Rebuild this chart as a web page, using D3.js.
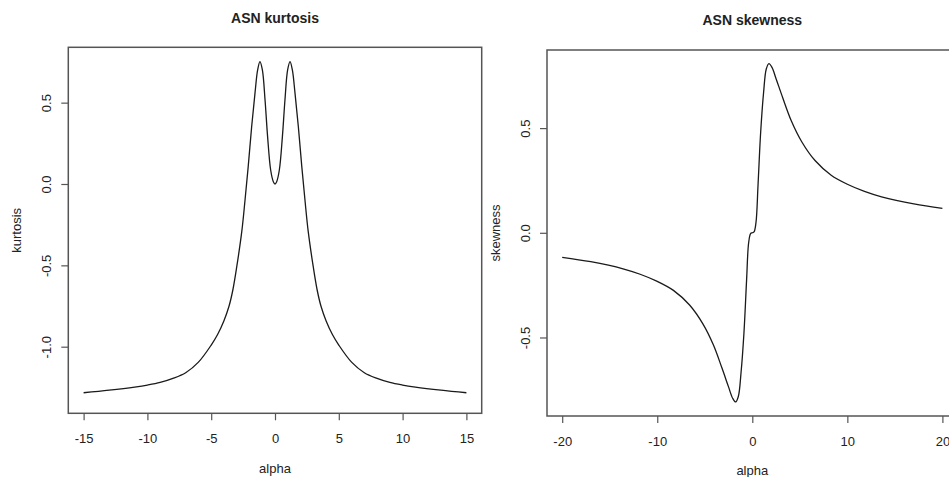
<!DOCTYPE html>
<html><head><meta charset="utf-8">
<script src="https://cdn.jsdelivr.net/npm/d3@7"></script>
<style>
body{margin:0;background:#fff}
svg{display:block}
text{font-family:"Liberation Sans",Arial,sans-serif;fill:#222}
</style>
</head><body>
<svg id="c" width="949" height="477"></svg>
<script>
// ---- data ----
const kurtAlpha = [-15, -13, -11, -10, -9, -8, -7, -6, -5, -4.5, -4, -3.6, -3.3, -3.0, -2.6, -2.35, -2.1, -1.83, -1.57, -1.36, -1.18, -0.99, -0.78, -0.58, -0.34, -0.13, 0,
                   0.13, 0.34, 0.58, 0.78, 0.99, 1.18, 1.36, 1.57, 1.83, 2.1, 2.35, 2.6, 3.0, 3.3, 3.6, 4, 4.5, 5, 6, 7, 8, 9, 10, 11, 13, 15];
const kurtValue = [-1.283, -1.267, -1.248, -1.236, -1.220, -1.195, -1.160, -1.095, -0.990, -0.925, -0.840, -0.750, -0.650, -0.510, -0.290, -0.100, 0.107, 0.352, 0.557, 0.701, 0.752, 0.701, 0.516, 0.291, 0.086, 0.014, 0.0,
                   0.014, 0.086, 0.291, 0.516, 0.701, 0.752, 0.701, 0.557, 0.352, 0.107, -0.100, -0.290, -0.510, -0.650, -0.750, -0.840, -0.925, -0.990, -1.095, -1.160, -1.195, -1.220, -1.236, -1.248, -1.267, -1.283];

const skewAlpha = [-20, -17, -13.6, -11.8, -10, -8.3, -6.6, -5.2, -4.1, -3.2, -2.5, -2.07, -1.75, -1.47, -1.19, -0.88, -0.6, -0.39, -0.18, 0,
                   0.18, 0.39, 0.6, 0.88, 1.19, 1.47, 1.75, 2.07, 2.5, 3.2, 4.1, 5.2, 6.6, 8.3, 10, 11.8, 13.6, 17, 20];
const skewValue = [-0.117, -0.138, -0.172, -0.198, -0.232, -0.275, -0.345, -0.435, -0.535, -0.645, -0.736, -0.790, -0.808, -0.782, -0.671, -0.480, -0.225, -0.050, -0.004, 0.0,
                   0.004, 0.050, 0.225, 0.480, 0.671, 0.782, 0.808, 0.790, 0.736, 0.645, 0.535, 0.435, 0.345, 0.275, 0.232, 0.198, 0.172, 0.138, 0.117];

const kurtXTicks = [-15, -10, -5, 0, 5, 10, 15];
const kurtYTicks = [-1.0, -0.5, 0.0, 0.5];
const skewXTicks = [-20, -10, 0, 10, 20];
const skewYTicks = [-0.5, 0.0, 0.5];

const svg = d3.select("#c");

function panel(o) {
  const x = d3.scaleLinear().domain(o.xDomain).range([o.left, o.right]);
  const y = d3.scaleLinear().domain(o.yDomain).range([o.bottom, o.top]);
  const g = svg.append("g");

  // curve
  const pts = o.xs.map((a, i) => [a, o.ys[i]]);
  g.append("path")
    .datum(pts)
    .attr("fill", "none")
    .attr("stroke", "#1a1a1a")
    .attr("stroke-width", 1.3)
    .attr("d", d3.line().x(d => x(d[0])).y(d => y(d[1])).curve(d3.curveCatmullRom.alpha(0.5)));

  // box
  g.append("rect")
    .attr("x", o.left).attr("y", o.top)
    .attr("width", o.right - o.left).attr("height", o.bottom - o.top)
    .attr("fill", "none").attr("stroke", "#555").attr("stroke-width", 1.5);

  // x axis
  const xa = g.append("g").attr("transform", `translate(0,${o.bottom})`)
    .call(d3.axisBottom(x).tickValues(o.xTicks).tickFormat(d3.format("d")).tickSize(7).tickPadding(o.xPad));
  xa.select(".domain").remove();
  xa.selectAll(".tick line").attr("stroke", "#555").attr("stroke-width", 1.2);
  xa.selectAll(".tick text").attr("font-size", 13).attr("fill", "#222")
    .text(d => d < 0 ? "-" + Math.abs(d) : String(d));

  // y axis
  const ya = g.append("g").attr("transform", `translate(${o.left},0)`)
    .call(d3.axisLeft(y).tickValues(o.yTicks).tickFormat(d3.format(".1f")).tickSize(7));
  ya.select(".domain").remove();
  ya.selectAll(".tick line").attr("stroke", "#555").attr("stroke-width", 1.2);
  ya.selectAll(".tick text").attr("font-size", 13).attr("fill", "#222")
    .attr("x", null).attr("dy", null)
    .attr("text-anchor", "middle")
    .attr("transform", "translate(-17.5,0) rotate(-90)")
    .text(d => (d < 0 ? "-" + Math.abs(d).toFixed(1) : d.toFixed(1)));

  // titles
  const cx = (o.left + o.right) / 2;
  g.append("text").attr("x", cx).attr("y", o.titleY)
    .attr("text-anchor", "middle").attr("font-size", 14).attr("font-weight", "bold")
    .attr("fill", "#111").text(o.title);
  g.append("text").attr("x", cx).attr("y", o.xlabY)
    .attr("text-anchor", "middle").attr("font-size", 13).text(o.xlab);
  const cy = (o.top + o.bottom) / 2;
  g.append("text").attr("transform", `translate(${o.left - 47},${cy}) rotate(-90)`)
    .attr("text-anchor", "middle").attr("font-size", 13).text(o.ylab);
}

panel({
  xs: kurtAlpha, ys: kurtValue,
  xDomain: [-16.2, 16.2], yDomain: [-1.4094, 0.8402],
  left: 68.3, right: 481.7, top: 47.3, bottom: 413.3,
  xTicks: kurtXTicks, yTicks: kurtYTicks, xPad: 13.5,
  title: "ASN kurtosis", titleY: 23, xlab: "alpha", xlabY: 473, ylab: "kurtosis"
});

panel({
  xs: skewAlpha, ys: skewValue,
  xDomain: [-21.6, 21.6], yDomain: [-0.875, 0.873],
  left: 547, right: 957.6, top: 50, bottom: 416,
  xTicks: skewXTicks, yTicks: skewYTicks, xPad: 13.5,
  title: "ASN skewness", titleY: 24.5, xlab: "alpha", xlabY: 475, ylab: "skewness"
});
</script>
</body></html>
